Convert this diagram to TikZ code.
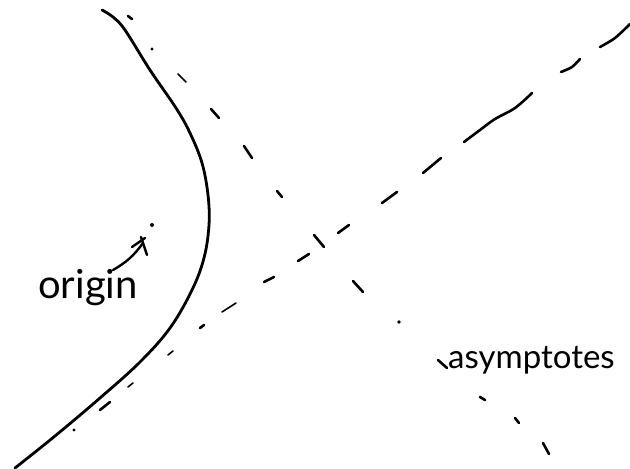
\documentclass[tikz,border=0pt]{standalone}
\usepackage{fontspec}
\setmainfont{Lato}
\begin{document}
\begin{tikzpicture}[x=1pt,y=-1pt,
  curve/.style={line width=2.8pt,line cap=round,line join=round},
  dsh/.style={line width=2.6pt,line cap=round},
  thin dsh/.style={line width=1.6pt,line cap=round},
  barb/.style={line width=2.4pt,line cap=round},
  lbl/.style={inner sep=0pt,anchor=base west}]
\useasboundingbox (0,0) rectangle (630,469);
% hyperbola branch
\draw[curve] plot[smooth,tension=0.6] coordinates {(102,10) (113,17) (125,30) (150,70) (176,108) (190,133) (202,163) (208,195) (209,225) (204,258) (192,290) (170,328) (140,362) (100,398) (55,436) (15,468)};
% ascending asymptote
\fill (74,430) circle (1.6);
\draw[dsh] (100,410) -- (110,402);
\draw[thin dsh] (128,387) -- (133,383);
\draw[thin dsh] (168,355) -- (173,351);
\draw[dsh] (200,328) -- (204,325);
\draw[thin dsh] (222,312) -- (236,303);
\draw[dsh] (264,282) -- (274,277);
\draw[dsh] (298,261) -- (309,254);
\draw[dsh] (338,233) -- (349,225);
\draw[dsh] (382,203) -- (397,192);
\draw[dsh] (423,173) -- (441,158);
\draw[dsh] plot[smooth,tension=0.6] coordinates {(464,142) (480,130) (495,119) (515,108) (532,93)};
\draw[dsh] plot[smooth] coordinates {(561,72) (572,67) (580,59)};
\draw[dsh] plot[smooth] coordinates {(600,47) (615,38) (630,24)};
% descending asymptote
\draw[dsh] (128,16) -- (132,19);
\fill (152,49) circle (1.6);
\draw[thin dsh] (178,74) -- (186,82);
\draw[dsh] (211,109) -- (219,118);
\draw[dsh] (244,146) -- (252,158);
\draw[dsh] (277,191) -- (282,197);
\draw[dsh] (314,235) -- (324,247);
\draw[dsh] (353,281) -- (363,292);
\fill (399,322) circle (1.8);
\draw[dsh] (438,360) -- (447,368);
\draw[dsh] (480,397) -- (485,400);
\draw[dsh] (515,418) -- (519,423);
\draw[dsh] (543,443) -- (549,454);
% origin
\coordinate (O) at (152,225);
\fill (O) circle (2);
\coordinate (tail) at (113,270);
\coordinate (head) at (143,243);
\draw[barb] (tail) to[bend right=12] (head);
\draw[barb] (132,247) -- (145,238);
\draw[barb] (141,237) -- (147,255);
\node[lbl,font=\fontsize{40}{42}\selectfont] (origin) at (38,298) {origin};
\node[lbl,font=\fontsize{33}{35}\selectfont] (asym) at (448,368) {asymptotes};
\end{tikzpicture}
\end{document}
